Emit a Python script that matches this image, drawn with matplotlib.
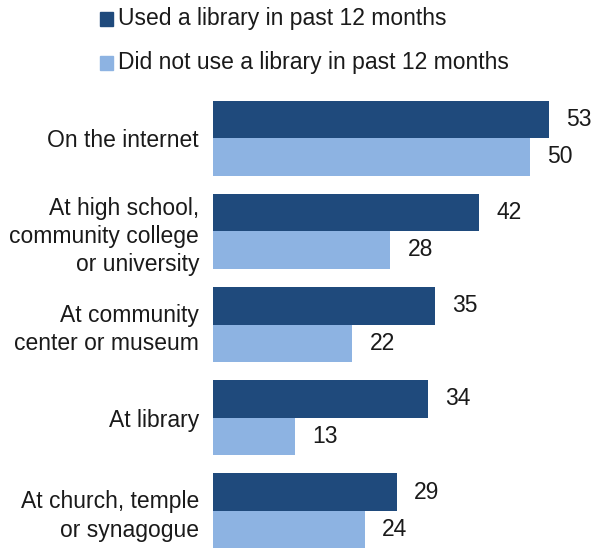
import matplotlib.pyplot as plt
from matplotlib.patches import Rectangle

plt.rcParams['font.family'] = ['Liberation Sans', 'DejaVu Sans']

categories = ['On the internet',
              'At high school,\ncommunity college\nor university',
              'At community\ncenter or museum',
              'At library',
              'At church, temple\nor synagogue']
used = [53, 42, 35, 34, 29]
not_used = [50, 28, 22, 13, 24]
series_names = ['Used a library in past 12 months',
                'Did not use a library in past 12 months']

dark = '#1f4a7c'
light = '#8db3e2'
txt = '#1a1a1a'
fs = 16.5

W, H = 604, 548
fig = plt.figure(figsize=(W / 100, H / 100), dpi=100)
# axes placed in pixel terms: bars start at x=213, top of first bar at y=101
ax = fig.add_axes([213 / W, 0 / H, 380 / W, (H - 101) / H])

h = 0.4
pos = list(range(len(categories)))
b1 = ax.barh([p - h / 2 for p in pos], used, height=h, color=dark)
b2 = ax.barh([p + h / 2 for p in pos], not_used, height=h, color=light)

for bars, vals in ((b1, used), (b2, not_used)):
    for bar, v in zip(bars, vals):
        ax.text(v + 2.7, bar.get_y() + bar.get_height() / 2, str(v),
                va='center', ha='left', fontsize=fs, color=txt)

ax.set_xlim(0, 60)
ax.set_ylim(4.4, -0.4)
ax.set_yticks(pos)
ax.set_yticklabels(categories, fontsize=fs, linespacing=1.3, color=txt)
ax.tick_params(axis='y', length=0, pad=10)
ax.set_xticks([])
for s in ax.spines.values():
    s.set_visible(False)

# legend drawn by hand: small square swatch followed by the label
for i, (name, col) in enumerate(zip(series_names, (dark, light))):
    yc = 19 + i * 44
    fig.patches.append(Rectangle((100 / W, (H - yc - 6.5) / H), 13 / W, 13 / H,
                                 transform=fig.transFigure, color=col))
    fig.text(118 / W, (H - yc) / H, name, va='center', ha='left',
             fontsize=fs, color=txt)

fig.savefig('out.png', dpi=100)
